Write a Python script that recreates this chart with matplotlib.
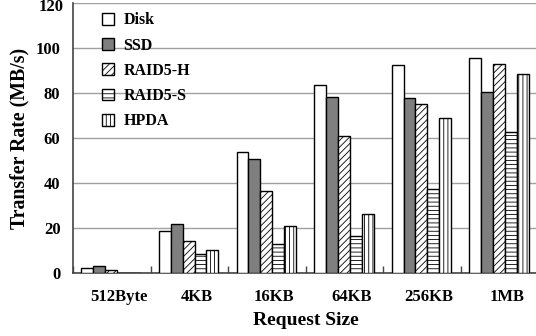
import matplotlib
matplotlib.use("Agg")
import matplotlib.pyplot as plt
import numpy as np
from matplotlib.patches import Patch

categories = ["512Byte", "4KB", "16KB", "64KB", "256KB", "1MB"]
series_names = ["Disk", "SSD", "RAID5-H", "RAID5-S", "HPDA"]
disk = [2.5, 18.8, 53.9, 83.8, 92.6, 95.8]
ssd = [3.1, 22.0, 50.8, 78.4, 77.9, 80.6]
raid5_h = [1.5, 14.4, 36.7, 60.9, 75.1, 92.9]
raid5_s = [0.0, 8.4, 13.0, 16.4, 37.3, 62.7]
hpda = [0.0, 10.2, 20.9, 26.4, 69.2, 88.7]
y_ticks = [0, 20, 40, 60, 80, 100, 120]

plt.rcParams["font.family"] = ["Liberation Serif", "DejaVu Serif"]
plt.rcParams["font.weight"] = "bold"
plt.rcParams["hatch.linewidth"] = 0.6

fig = plt.figure(figsize=(5.36, 3.36), dpi=100)
ax = fig.add_axes([73 / 536, 62.7 / 336, 465.6 / 536, 270 / 336])

styles = [
    dict(facecolor="white", hatch=None),
    dict(facecolor="#7f7f7f", hatch=None),
    dict(facecolor="white", hatch="/////"),
    dict(facecolor="white", hatch="----"),
    dict(facecolor="white", hatch="||||"),
]
data = [disk, ssd, raid5_h, raid5_s, hpda]
x = np.arange(len(categories))
w = 0.153
for i, (vals, st) in enumerate(zip(data, styles)):
    ax.bar(x + (i - 2) * w - 0.01, vals, width=w, facecolor=st["facecolor"],
           edgecolor="black", linewidth=1.0, hatch=st["hatch"], zorder=3)

ax.set_xlim(-0.5, len(categories) - 0.5)
ax.set_ylim(0, 120)
ax.set_yticks(y_ticks)
ax.set_yticklabels([str(v) if v != y_ticks[-1] else "" for v in y_ticks])
ax.yaxis.grid(True, color="#a0a0a0", linewidth=1.0, zorder=0)
ax.set_axisbelow(True)

ax.set_xticks(x + 0.09)
ax.set_xticklabels(categories, fontsize=12, fontweight="bold")
ax.set_xticks(np.arange(len(categories) + 1) - 0.5, minor=True)
ax.tick_params(axis="x", which="major", length=0, pad=11)
ax.tick_params(axis="x", which="minor", direction="in", length=5, width=1, color="#444444")
ax.tick_params(axis="y", length=0, pad=9, labelsize=12)
for lab in ax.get_yticklabels():
    lab.set_fontweight("bold")

# top tick label sits slightly below its gridline
ax.annotate(str(y_ticks[-1]), xy=(0, y_ticks[-1]), xycoords=("axes fraction", "data"),
            xytext=(-9, -3.5), textcoords="offset pixels", ha="right", va="center",
            fontsize=12, fontweight="bold")

for s in ["top", "right"]:
    ax.spines[s].set_visible(False)
ax.spines["left"].set_color("#444444")
ax.spines["bottom"].set_color("#444444")
ax.spines["left"].set_linewidth(1.2)
ax.spines["bottom"].set_linewidth(1.2)

ax.set_xlabel("Request Size", fontsize=14, fontweight="bold", labelpad=5)
ax.set_ylabel("Transfer Rate (MB/s)", fontsize=14.3, fontweight="bold")
ax.yaxis.set_label_coords(-0.093, 0.5)

handles = [Patch(facecolor=st["facecolor"], edgecolor="black", hatch=st["hatch"], linewidth=1.0)
           for st in styles]
leg = ax.legend(handles, series_names, loc="upper left", bbox_to_anchor=(0.031, 1.02),
                frameon=False, handlelength=0.75, handleheight=0.75, labelspacing=0.58,
                handletextpad=0.6, prop={"size": 11.5, "weight": "bold"})

fig.savefig("out.png", dpi=100)
